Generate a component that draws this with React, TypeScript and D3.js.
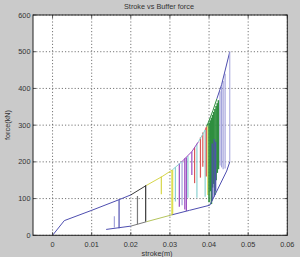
import React from "react";
import * as d3 from "d3";

// ---- data ----
const xTicks = [0, 0.01, 0.02, 0.03, 0.04, 0.05, 0.06];
const xTickLabels = ["0", "0.01", "0.02", "0.03", "0.04", "0.05", "0.06"];
const yTicks = [0, 100, 200, 300, 400, 500, 600];
const yTickLabels = ["0", "100", "200", "300", "400", "500", "600"];

// loading envelope (stroke m, force kN)
const upperX = [0, 0.003, 0.01, 0.017, 0.02, 0.024, 0.028, 0.0306, 0.033, 0.0356, 0.0373, 0.039, 0.0394, 0.041, 0.042, 0.0432, 0.0453];
const upperY = [0, 40, 68, 97, 110, 136, 160, 178, 200, 228, 255, 287, 296, 340, 372, 410, 500];
const upperSeries = ["b", "b", "b", "b", "k", "y", "y", "c", "m", "m", "c", "r", "g", "g", "b", "b"];

// unloading / return path
const lowerX = [0.0453, 0.0453, 0.0445, 0.0415, 0.0402, 0.035, 0.0306, 0.024, 0.02, 0.0137];
const lowerY = [500, 200, 175, 110, 82, 68, 56, 37, 25, 16];
const lowerSeries = ["lv", "b", "b", "b", "b", "b", "yg", "gr", "b"];

// vertical drops: stroke, top force, bottom force, series
const dropX = [0.0158, 0.017, 0.0217, 0.0238, 0.0278, 0.0306, 0.0314, 0.0324, 0.0331, 0.0338, 0.0342, 0.0346, 0.0356, 0.0363, 0.0369, 0.0378, 0.0384, 0.039, 0.0393, 0.0397,
  0.04, 0.0403, 0.0406, 0.0409, 0.0412, 0.0415, 0.0418, 0.0421, 0.0424,
  0.0408, 0.0413, 0.0417,
  0.0428, 0.0432, 0.0436, 0.0441];
const dropTop = [52, 97, 107, 136, 160, 178, 186, 196, 202, 210, 212, 216, 228, 240, 250, 267, 280, 287, 294, 300,
  306, 313, 320, 328, 336, 344, 352, 360, 368,
  250, 262, 255,
  392, 405, 420, 440];
const dropBottom = [21, 19, 30, 37, 112, 55, 92, 78, 82, 70, 66, 102, 164, 142, 102, 157, 187, 105, 160, 110,
  90, 120, 85, 130, 140, 110, 150, 170, 180,
  95, 105, 120,
  190, 185, 180, 182];
const dropSeries = ["lv", "b", "gr", "k", "y", "y2", "c", "m", "lv", "m", "m", "c", "m", "r", "c", "r", "r", "c", "r", "y",
  "g", "g", "g", "g", "g", "g", "g", "g", "g",
  "b", "b", "b",
  "lv", "lv", "lv", "lv"];

// ---- styles ----
const palette: Record<string, string> = {
  b: "#4e4eb0",
  lv: "#a4a4dc",
  k: "#3a3a3a",
  gr: "#7a7a7a",
  y: "#d6d648",
  y2: "#dede50",
  yg: "#b4c45c",
  c: "#8ad2d2",
  m: "#9a4ac0",
  r: "#d85858",
  g: "#2f8f3f",
};
const widths: Record<string, number> = { g: 1.6, y2: 2 };

const W = 300;
const H = 257;
const PL = 33, PR = 287.3, PT = 15, PB = 235.3;
const FONT = "'Liberation Sans', Arial, sans-serif";

export default function App() {
  const x = d3.scaleLinear().domain([-0.005, 0.06]).range([PL, PR]);
  const y = d3.scaleLinear().domain([0, 600]).range([PB, PT]);
  const line = d3.line<[number, number]>().x((d) => x(d[0])).y((d) => y(d[1]));

  const segs: { pts: [number, number][]; s: string; w: number }[] = [];
  for (let i = 0; i < dropX.length; i++) {
    segs.push({ pts: [[dropX[i], dropTop[i]], [dropX[i], dropBottom[i]]], s: dropSeries[i], w: widths[dropSeries[i]] ?? 1.2 });
  }
  for (let i = 0; i < upperX.length - 1; i++) {
    segs.push({ pts: [[upperX[i], upperY[i]], [upperX[i + 1], upperY[i + 1]]], s: upperSeries[i], w: 1 });
  }
  for (let i = 0; i < lowerX.length - 1; i++) {
    segs.push({ pts: [[lowerX[i], lowerY[i]], [lowerX[i + 1], lowerY[i + 1]]], s: lowerSeries[i], w: 1 });
  }

  return (
    <svg width={W} height={H} style={{ position: "absolute", left: 0, top: 0 }} fontFamily={FONT}>
      <rect x={0} y={0} width={W} height={H} fill="#cacaca" />
      <rect x={PL} y={PT} width={PR - PL} height={PB - PT} fill="#ffffff" />
      {/* grid */}
      {xTicks.map((t) => (
        <line key={"gx" + t} x1={x(t)} x2={x(t)} y1={PT} y2={PB} stroke="#555" strokeWidth={0.8} strokeDasharray="1.2,2" />
      ))}
      {yTicks.map((t) => (
        <line key={"gy" + t} x1={PL} x2={PR} y1={y(t)} y2={y(t)} stroke="#555" strokeWidth={0.8} strokeDasharray="1.2,2" />
      ))}
      {/* data */}
      {segs.map((sg, i) => (
        <path key={i} d={line(sg.pts) || ""} fill="none" stroke={palette[sg.s]} strokeWidth={sg.w} />
      ))}
      {/* ticks */}
      {xTicks.map((t) => (
        <g key={"tx" + t}>
          <line x1={x(t)} x2={x(t)} y1={PB} y2={PB - 3} stroke="#333" strokeWidth={0.8} />
          <line x1={x(t)} x2={x(t)} y1={PT} y2={PT + 3} stroke="#333" strokeWidth={0.8} />
        </g>
      ))}
      {yTicks.map((t) => (
        <g key={"ty" + t}>
          <line x1={PL} x2={PL + 3} y1={y(t)} y2={y(t)} stroke="#333" strokeWidth={0.8} />
          <line x1={PR} x2={PR - 3} y1={y(t)} y2={y(t)} stroke="#333" strokeWidth={0.8} />
        </g>
      ))}
      <rect x={PL} y={PT} width={PR - PL} height={PB - PT} fill="none" stroke="#222" strokeWidth={1} />
      {/* tick labels */}
      {xTicks.map((t, i) => (
        <text key={"lx" + t} x={x(t)} y={247} fontSize={7.3} textAnchor="middle" fill="#333">
          {xTickLabels[i]}
        </text>
      ))}
      {yTicks.map((t, i) => (
        <text key={"ly" + t} x={30.5} y={y(t) + 2.6} fontSize={7.3} textAnchor="end" fill="#333">
          {yTickLabels[i]}
        </text>
      ))}
      <text x={159} y={9} fontSize={7.3} textAnchor="middle" fill="#333">Stroke vs Buffer force</text>
      <text x={157} y={255.5} fontSize={7.3} textAnchor="middle" fill="#333">stroke(m)</text>
      <text transform="translate(9.5,125) rotate(-90)" fontSize={7.3} textAnchor="middle" fill="#333">force(kN)</text>
    </svg>
  );
}
